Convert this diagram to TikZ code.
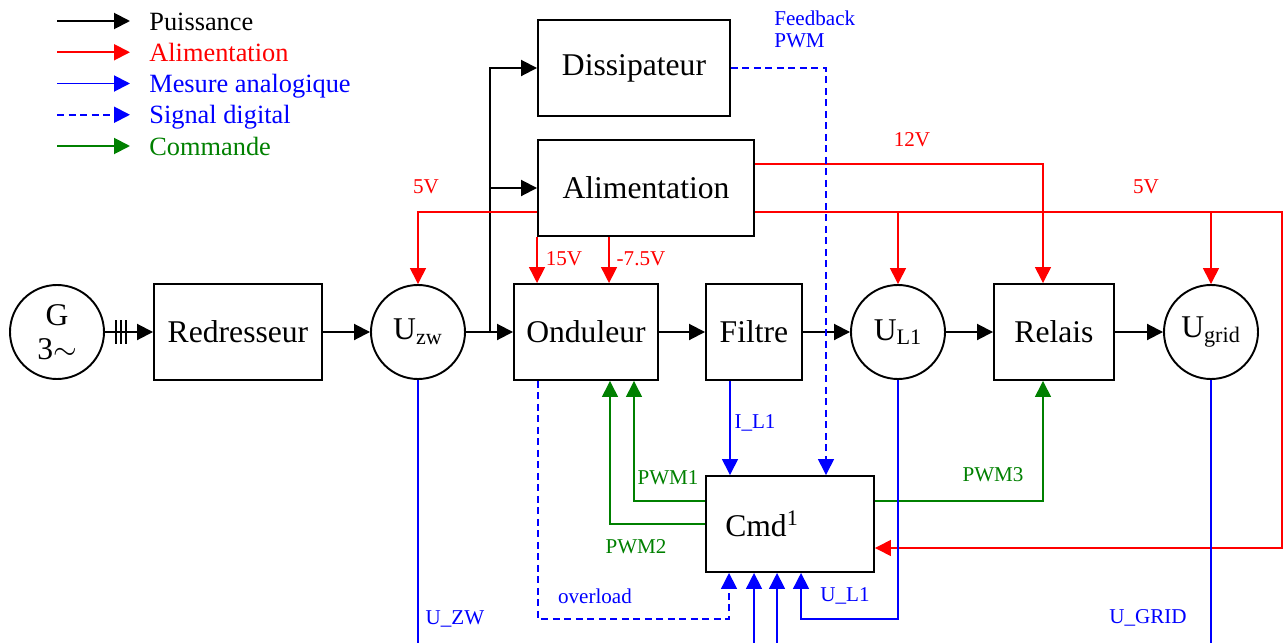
\documentclass[tikz,border=0pt]{standalone}
\usepackage{fontspec}
\setmainfont{Liberation Serif}
\usepackage{tikz}
\usetikzlibrary{arrows.meta, calc, positioning}

\definecolor{vert}{RGB}{0,128,0}
\newcommand{\blocfont}{\fontsize{18}{19}\selectfont}
\newcommand{\legfont}{\fontsize{15}{18}\selectfont}
\newcommand{\etqfont}{\fontsize{12}{12.5}\selectfont}

\begin{document}
\begin{tikzpicture}[
  x=0.2mm, y=-0.2mm,
  bloc/.style={draw, line width=1.1pt, minimum width=#1, minimum height=19.2mm, inner sep=0pt, font=\blocfont},
  rond/.style={draw, circle, line width=1.1pt, minimum size=18.8mm, inner sep=0pt, align=center, font=\blocfont},
  etq/.style={font=\etqfont, inner sep=0pt, text=#1},
  leg/.style={font=\legfont, inner sep=0pt, anchor=base west, text=#1},
  pwr/.style={-{Triangle[length=3.2mm, width=3.2mm]}, line width=1.1pt},
  supply/.style={-{Triangle[length=3.2mm, width=3.2mm]}, line width=0.85pt, red},
  meas/.style={supply, blue},
  digi/.style={meas, dash pattern=on 1.4mm off 0.9mm},
  ctrl/.style={supply, vert}
]
  \useasboundingbox (0,0) rectangle (1284,643);

  % Légende
  \foreach \i/\sty/\col/\txt in {1/pwr/black/Puissance, 2/supply/red/Alimentation,
      3/meas/blue/Mesure analogique, 4/digi/blue/Signal digital, 5/ctrl/vert/Commande} {
    \coordinate (ls\i) at (57, {21+31.25*(\i-1)});
    \node[leg=\col] (lt\i) at (149, {30+31.25*(\i-1)}) {\txt};
    \draw[\sty, line width=1.1pt, shorten >=3.8mm] (ls\i) -- (ls\i -| lt\i.west);
  }

  % Chaîne de puissance
  \node[rond] (gen) at (57,332) {G\\3$\sim$};
  \node[bloc=33.6mm] (redr) at (238,332) {Redresseur};
  \node[rond] (uzw) at (418,332) {U\textsubscript{zw}};
  \node[bloc=28.8mm] (ondu) at (586,332) {Onduleur};
  \node[bloc=19.2mm] (filt) at (754,332) {Filtre};
  \node[rond] (ul1) at (898,332) {U\textsubscript{L1}};
  \node[bloc=24mm] (rela) at (1054,332) {Relais};
  \node[rond] (ugrid) at (1211,332) {U\textsubscript{grid}};

  % Blocs auxiliaires et commande
  \node[bloc=38.4mm] (diss) at (634,68) {Dissipateur};
  \node[bloc=43.2mm] (alim) at (646,188) {Alimentation};
  \node[bloc=33.6mm] (cmd) at (790,524) {Cmd\textsuperscript{1}\hspace{11.2mm}\mbox{}};

  % Puissance
  \draw[pwr] (gen) -- (redr);
  \foreach \hx in {116,121,126} \draw[line width=0.8pt] (\hx,320) -- (\hx,344);
  \draw[pwr] (redr) -- (uzw);
  \draw[pwr] (uzw) -- (ondu);
  \draw[pwr] (ondu) -- (filt);
  \draw[pwr] (filt) -- (ul1);
  \draw[pwr] (ul1) -- (rela);
  \draw[pwr] (rela) -- (ugrid);
  \coordinate (br) at (490,332);
  \draw[pwr] (br) |- (diss);
  \draw[pwr] (br |- alim) -- (alim);

  % Alimentations
  \draw[supply] ($(alim.west)+(0,24)$) -| (uzw);
  \node[etq=red] (v5a) at (426,187) {5V};
  \draw[supply] (alim.south west) -- (alim.south west |- ondu.north);
  \coordinate (v75) at ($(alim.south west)+(72,0)$);
  \draw[supply] (v75) -- (v75 |- ondu.north);
  \node[etq=red] (v15) at (564,259) {15V};
  \node[etq=red] (vm75) at (641,259) {-7.5V};
  \coordinate (j12) at (1043,164);
  \draw[supply] (alim.east |- j12) -- (j12) -- (j12 |- rela.north);
  \node[etq=red] (v12) at (912,140) {12V};
  \coordinate (j5) at (1282,212);
  \draw[supply] (alim.east |- j5) -- (j5) |- ($(cmd.east)+(0,24)$);
  \draw[supply] (ul1 |- j5) -- (ul1);
  \draw[supply] (ugrid |- j5) -- (ugrid);
  \node[etq=red] (v5b) at (1146,187) {5V};

  % Commandes
  \draw[ctrl] ($(cmd.west)+(0,-23)$) -| ($(ondu.south)+(48,0)$);
  \draw[ctrl] (cmd.west) -| ($(ondu.south)+(24,0)$);
  \draw[ctrl] ($(cmd.east)+(0,-23)$) -| ($(rela.south)+(-11,0)$);
  \node[etq=vert] (pw1) at (668,478) {PWM1};
  \node[etq=vert] (pw2) at (636,547) {PWM2};
  \node[etq=vert] (pw3) at (993,475) {PWM3};

  % Mesures et signaux
  \coordinate (cin1) at ($(cmd.south west)+(24,0)$);
  \coordinate (cin2) at ($(cmd.south west)+(49,0)$);
  \coordinate (cin3) at ($(cmd.south west)+(72,0)$);
  \coordinate (cin4) at ($(cmd.south west)+(96,0)$);
  \coordinate (lowy) at (0,619);
  \coordinate (bas) at (0,643);
  \coordinate (il) at ($(filt.south)+(-24,0)$);
  \draw[meas] (il) -- (il |- cmd.north);
  \node[etq=blue] (til) at (755,423) {I\_L1};
  \draw[digi] (diss.east) -| ($(cmd.north)+(36,0)$);
  \node[etq=blue, align=left, anchor=west] (tfb) at (774,29) {Feedback\\PWM};
  \draw[digi] ($(ondu.south)+(-48,0)$) |- (lowy -| cin1) -- (cin1);
  \node[etq=blue] (tov) at (595,596) {overload};
  \draw[meas] (ul1) |- (lowy -| cin4) -- (cin4);
  \node[etq=blue] (tul) at (845,596) {U\_L1};
  \draw[meas, -] (uzw) -- (uzw |- bas);
  \node[etq=blue] (tuz) at (455,619) {U\_ZW};
  \draw[meas, -] (ugrid) -- (ugrid |- bas);
  \node[etq=blue] (tug) at (1148,618) {U\_GRID};
  \draw[meas] (cin2 |- bas) -- (cin2);
  \draw[meas] (cin3 |- bas) -- (cin3);
\end{tikzpicture}
\end{document}
